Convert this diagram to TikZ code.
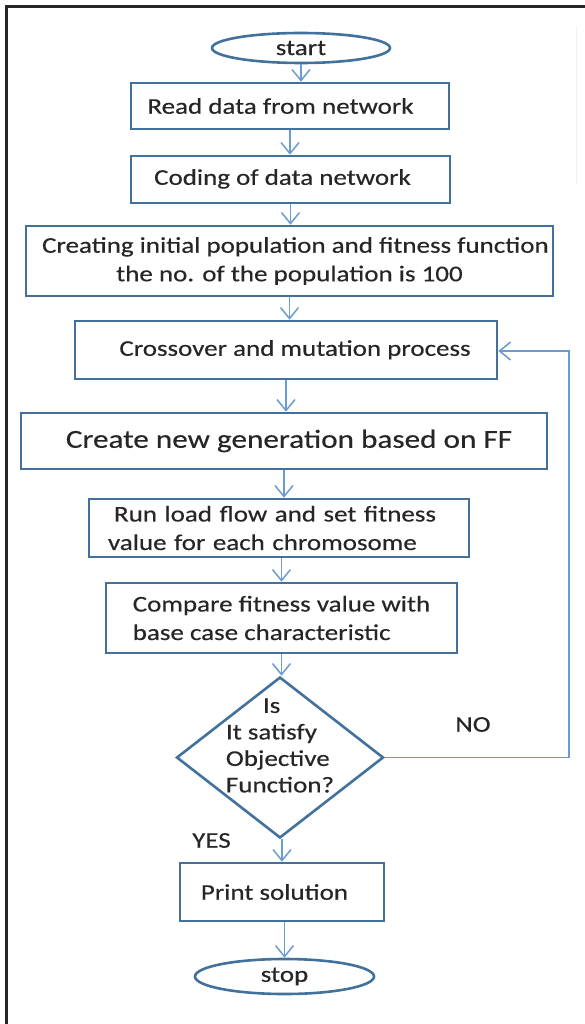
\documentclass[tikz,border=0pt]{standalone}
\usepackage{fontspec}
\setmainfont{Carlito}[FakeStretch=1.2,FakeBold=0.35]
\usetikzlibrary{shapes.geometric,arrows.meta}
\definecolor{boxblue}{HTML}{41719C}
\definecolor{arrblue}{HTML}{6A9BD1}
\definecolor{framecol}{HTML}{262626}
\definecolor{txtgray}{HTML}{262626}
\begin{document}
\begin{tikzpicture}[x=1pt,y=-1pt,
  box/.style={draw=boxblue, line width=2.6pt, fill=white, rectangle, inner sep=0pt,
    font=\fontsize{22.5pt}{28.5pt}\selectfont, text=txtgray},
  term/.style={draw=boxblue, line width=2.6pt, fill=white, ellipse, inner sep=0pt,
    font=\fontsize{22.5pt}{28.5pt}\selectfont, text=txtgray},
  dec/.style={draw=boxblue, line width=2.6pt, fill=white, diamond, inner sep=0pt},
  dectext/.style={font=\fontsize{22.5pt}{26.5pt}\selectfont, text=txtgray, align=left, inner sep=0pt},
  lbl/.style={font=\fontsize{22.5pt}{28.5pt}\selectfont, text=txtgray},
  arr/.style={draw=arrblue, line width=1.5pt, -{Straight Barb[length=11pt,width=18pt]}}
]
\useasboundingbox (0,0) rectangle (585,1024);
% frame
\draw[framecol, line width=3pt] (6,1024) -- (6,7) -- (585,7);
\draw[gray!12, line width=1pt] (576,26) -- (576,184);

% nodes
\node[term, minimum width=178pt, minimum height=30pt] (start) at (301,48) {start};
\node[box, minimum width=318pt, minimum height=46pt] (read) at (290,106) {Read data from network\kern19pt};
\node[box, minimum width=319pt, minimum height=47pt] (coding) at (290.5,179.5) {\raisebox{5pt}{Coding of data network}\kern16pt};
\node[box, minimum width=527pt, minimum height=70pt, align=center] (create) at (289.5,261) {\hspace*{12pt}Creating initial population and fitness function\\the no. of the population is 100};
\node[box, minimum width=422pt, minimum height=58pt] (cross) at (286,350) {\kern18pt\raisebox{4pt}{Crossover and mutation process}};
\node[box, minimum width=526pt, minimum height=56pt, font=\fontsize{26pt}{30pt}\selectfont] (newgen) at (284,441) {\kern10pt Create new generation based on FF};
\node[box, minimum width=380pt, minimum height=58pt, text width=342pt, align=left] (run) at (279,528) {\hspace*{6pt}Run load flow and set fitness\\value for each chromosome};
\node[box, minimum width=351pt, minimum height=70pt, align=left] (compare) at (281.5,618) {Compare fitness value with\\base case characteristic};
\node[dec, minimum width=207pt, minimum height=161pt,
  label={[dectext, yshift=12pt]center:\hspace*{37pt}Is\\It satisfy\\Objective\\Function?}] (dec) at (280,757.5) {};
\node[box, minimum width=204pt, minimum height=58pt] (print) at (282,892) {Print solution\kern15pt};
\node[term, minimum width=179pt, minimum height=35pt] (stop) at (284.5,976.5) {\raisebox{-4pt}{stop}};

\node[lbl] (no) at (473,724.5) {NO};
\node[lbl] (yes) at (211.5,840.5) {YES};

% connectors
\draw[arr] (start.south) -- (start.south |- read.north);
\draw[arr] (read.south) -- (read.south |- coding.north);
\draw[arr] (coding.south) -- (coding.south |- create.north);
\draw[arr] (create.south) -- (create.south |- cross.north);
\draw[arr] (cross.south) -- (cross.south |- newgen.north);
\draw[arr] (newgen.south) -- (newgen.south |- run.north);
\draw[arr] (run.south -| compare.north) -- (compare.north);
\draw[arr] (compare.south) -- (compare.south |- dec.north);
\draw[arr] (dec.south -| print.north) -- (print.north);
\draw[arr] (print.south -| stop.north) -- (stop.north);
\coordinate (fb1) at (569,757.5);
\coordinate (fb2) at (569,351);
\draw[arr, line width=1.6pt] (dec.east) -- (fb1) -- (fb2) -- (cross.east |- fb2);
\end{tikzpicture}
\end{document}
